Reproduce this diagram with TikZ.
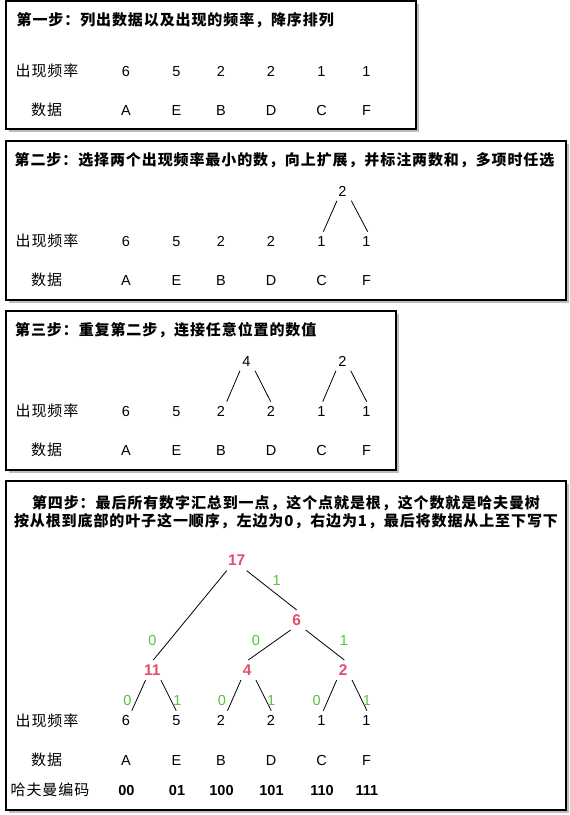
\documentclass[tikz,border=0pt]{standalone}
\usepackage{fontspec}
\setmainfont{Liberation Sans}
\newfontfamily\cjk{Noto Sans CJK SC}[LetterSpace=6]
\usetikzlibrary{calc,shadows}
\definecolor{nodered}{HTML}{E0506E}
\definecolor{bitgreen}{HTML}{5CBF3F}
\definecolor{shade}{HTML}{BDBDBD}
\begin{document}
\begin{tikzpicture}[x=1bp,y=-1bp,
  panel/.style={draw=black,line width=1.1bp,fill=white,inner sep=0,outer sep=0,anchor=north west,
    drop shadow={shadow xshift=3bp,shadow yshift=-3bp,fill=shade,opacity=1}},
  txt/.style={inner sep=0,text height=10.4bp,text depth=0bp,font=\fontsize{14.5bp}{16bp}\selectfont},
  lab/.style={inner sep=0,anchor=west,font=\cjk\fontsize{15bp}{18bp}\selectfont},
  ttl/.style={inner sep=0,anchor=west,font=\cjk\bfseries\fontsize{15bp}{18bp}\selectfont},
  sumnode/.style={inner sep=0,text height=11.1bp,text depth=0bp,text=nodered,font=\bfseries\fontsize{15.5bp}{16bp}\selectfont},
  bit/.style={txt,text=bitgreen},
  codenode/.style={inner sep=0,text height=10.4bp,text depth=0bp,font=\bfseries\fontsize{14.5bp}{16bp}\selectfont},
  edge/.style={draw=black,line width=0.8bp}
]
\useasboundingbox (0,0) rectangle (570,815);
\fill[white] (0,0) rectangle (570,815);

% panels
\node[panel,minimum width=410bp,minimum height=128bp] (box1) at (6,1) {};
\node[panel,minimum width=560bp,minimum height=159bp] (box2) at (6,141) {};
\node[panel,minimum width=390bp,minimum height=159bp] (box3) at (6,311) {};
\node[panel,minimum width=560bp,minimum height=329bp] (box4) at (6,481) {};

% ---------- step 1 ----------
\node[ttl] (t1) at (16.5,20) {第一步：列出数据以及出现的频率，降序排列};
\node[lab] (fl1) at (15.5,71) {出现频率};
\node[lab] (dl1) at (31,110) {数据};
\foreach \x/\v/\L/\n in {126/6/A/a,176.5/5/E/e,221/2/B/b,271/2/D/d,321.5/1/C/c,366.5/1/F/f}{
  \node[txt] (f1\n) at (\x,71) {\v};
  \node[txt] (d1\n) at (\x,110) {\L};
}

% ---------- step 2 ----------
\node[ttl] (t2) at (14.5,160) {第二步：选择两个出现频率最小的数，向上扩展，并标注两数和，多项时任选};
\node[lab] (fl2) at (15.5,241) {出现频率};
\node[lab] (dl2) at (31,280) {数据};
\foreach \x/\v/\L/\n in {126/6/A/a,176.5/5/E/e,221/2/B/b,271/2/D/d,321.5/1/C/c,366.5/1/F/f}{
  \node[txt] (f2\n) at (\x,241) {\v};
  \node[txt] (d2\n) at (\x,280) {\L};
}
\node[txt] (s2cf) at (342.5,191) {2};
\draw[edge] ($(s2cf)+(-5.5,9.7)$) -- ($(f2c)+(1.8,-9.3)$);
\draw[edge] ($(s2cf)+(8.8,9.7)$) -- ($(f2f)+(1.2,-9.3)$);

% ---------- step 3 ----------
\node[ttl] (t3) at (15,330) {第三步：重复第二步，连接任意位置的数值};
\node[lab] (fl3) at (15.5,411) {出现频率};
\node[lab] (dl3) at (31,450) {数据};
\foreach \x/\v/\L/\n in {126/6/A/a,176.5/5/E/e,221/2/B/b,271/2/D/d,321.5/1/C/c,366.5/1/F/f}{
  \node[txt] (f3\n) at (\x,411) {\v};
  \node[txt] (d3\n) at (\x,450) {\L};
}
\node[txt] (s3bd) at (246.5,361) {4};
\node[txt] (s3cf) at (342.5,361) {2};
\draw[edge] ($(s3bd)+(-6.5,9.7)$) -- ($(f3b)+(5.7,-9.3)$);
\draw[edge] ($(s3bd)+(8.5,9.7)$) -- ($(f3d)+(-0.3,-9.3)$);
\draw[edge] ($(s3cf)+(-6.5,9.7)$) -- ($(f3c)+(1.2,-9.3)$);
\draw[edge] ($(s3cf)+(8.2,9.7)$) -- ($(f3f)+(0.2,-9.3)$);

% ---------- step 4 ----------
\node[inner sep=0,align=center,font=\cjk\bfseries\fontsize{15bp}{18bp}\selectfont] (t4) at (286,512)
  {第四步：最后所有数字汇总到一点，这个点就是根，这个数就是哈夫曼树\\按从根到底部的叶子这一顺序，左边为0，右边为1，最后将数据从上至下写下};
\node[lab] (fl4) at (15.5,720.5) {出现频率};
\node[lab] (dl4) at (31,760) {数据};
\node[lab] (cl4) at (10.5,790) {哈夫曼编码};
\foreach \x/\v/\L/\c/\n in {126/6/A/00/a,176.5/5/E/01/e,221/2/B/100/b,271/2/D/101/d,321.5/1/C/110/c,366.5/1/F/111/f}{
  \node[txt] (f4\n) at (\x,720.5) {\v};
  \node[txt] (d4\n) at (\x,760) {\L};
  \node[codenode] (c4\n) at (\x+0.5,790) {\c};
}
\node[sumnode] (n17) at (236.7,560) {17};
\node[sumnode] (n6) at (296.7,620) {6};
\node[sumnode] (n11) at (152.3,670) {11};
\node[sumnode] (n4) at (247.3,670) {4};
\node[sumnode] (n2) at (343.3,670) {2};

\draw[edge] ($(n17)+(-10,10.7)$) -- ($(n11)+(1,-10)$);
\draw[edge] ($(n17)+(10,10.7)$) -- ($(n6)+(0,-10)$);
\draw[edge] ($(n6)+(-6,10)$) -- ($(n4)+(1,-10)$);
\draw[edge] ($(n6)+(9,10)$) -- ($(n2)+(1,-10)$);

\draw[edge] ($(n11)+(-6.7,10)$) -- ($(f4a)+(5.8,-9.8)$);
\draw[edge] ($(n11)+(8.6,10)$) -- ($(f4e)+(-0.3,-9.8)$);
\draw[edge] ($(n4)+(-6.3,10)$) -- ($(f4b)+(6.5,-9.8)$);
\draw[edge] ($(n4)+(8.6,10)$) -- ($(f4d)+(0.2,-9.8)$);
\draw[edge] ($(n2)+(-6.6,10)$) -- ($(f4c)+(1.8,-9.8)$);
\draw[edge] ($(n2)+(8.7,10)$) -- ($(f4f)+(0.5,-9.8)$);

\node[bit] (b17r) at (276.7,580) {1};
\node[bit] (b17l) at (152.3,640) {0};
\node[bit] (b6l) at (256,640) {0};
\node[bit] (b6r) at (344,640) {1};
\node[bit] (b11l) at (127.4,700) {0};
\node[bit] (b11r) at (177.3,700) {1};
\node[bit] (b4l) at (222,700) {0};
\node[bit] (b4r) at (271.2,700) {1};
\node[bit] (b2l) at (316.7,700) {0};
\node[bit] (b2r) at (367,700) {1};
\end{tikzpicture}
\end{document}
